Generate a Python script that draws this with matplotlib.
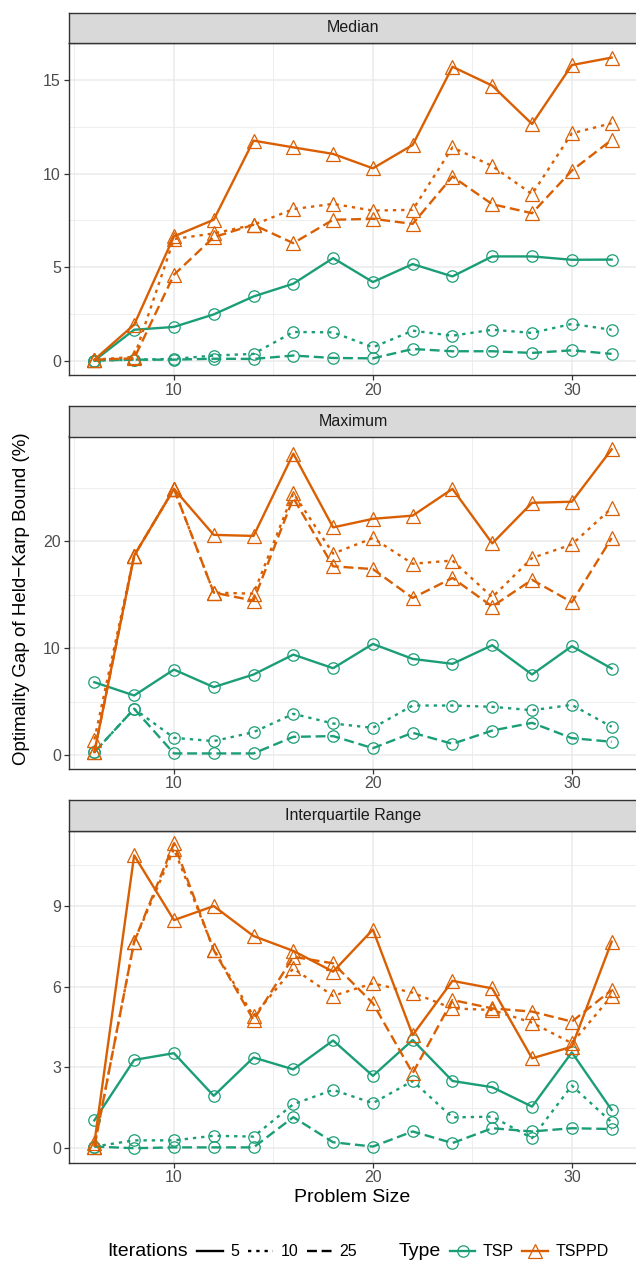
import matplotlib
matplotlib.use("Agg")
import matplotlib.pyplot as plt
from matplotlib.lines import Line2D
import numpy as np

plt.rcParams["font.family"] = ["Liberation Sans", "DejaVu Sans"]

sizes = [6, 8, 10, 12, 14, 16, 18, 20, 22, 24, 26, 28, 30, 32]
iterations = ["5", "10", "25"]
types = ["TSP", "TSPPD"]
panels = ["Median", "Maximum", "Interquartile Range"]

# values, keyed by (type, iterations)
median = {
    ("TSP", "5"): [0.0, 1.65, 1.8, 2.47, 3.43, 4.11, 5.48, 4.2, 5.16, 4.5, 5.57, 5.57, 5.39, 5.4],
    ("TSP", "10"): [0.0, 0.05, 0.09, 0.27, 0.36, 1.53, 1.51, 0.71, 1.6, 1.33, 1.65, 1.48, 1.96, 1.65],
    ("TSP", "25"): [0.0, 0.05, 0.05, 0.1, 0.09, 0.27, 0.14, 0.12, 0.62, 0.5, 0.5, 0.41, 0.55, 0.36],
    ("TSPPD", "5"): [0.05, 1.92, 6.64, 7.53, 11.76, 11.4, 11.05, 10.28, 11.53, 15.71, 14.7, 12.65, 15.8, 16.2],
    ("TSPPD", "10"): [0.05, 0.2, 6.5, 6.8, 7.26, 8.1, 8.38, 8.02, 8.06, 11.4, 10.4, 8.9, 12.15, 12.69],
    ("TSPPD", "25"): [0.05, 0.12, 4.59, 6.6, 7.26, 6.28, 7.53, 7.58, 7.31, 9.84, 8.36, 7.88, 10.16, 11.8],
}
maximum = {
    ("TSP", "5"): [6.82, 5.58, 8.0, 6.36, 7.54, 9.4, 8.13, 10.4, 9.0, 8.54, 10.28, 7.54, 10.19, 8.1],
    ("TSP", "10"): [0.28, 4.33, 1.62, 1.31, 2.15, 3.86, 2.96, 2.55, 4.64, 4.64, 4.52, 4.2, 4.7, 2.65],
    ("TSP", "25"): [0.28, 4.33, 0.16, 0.16, 0.16, 1.71, 1.78, 0.65, 2.09, 1.06, 2.3, 3.02, 1.59, 1.25],
    ("TSPPD", "5"): [0.28, 18.66, 24.9, 20.6, 20.5, 28.2, 21.3, 22.1, 22.4, 24.9, 19.8, 23.6, 23.7, 28.6],
    ("TSPPD", "10"): [1.46, 18.66, 24.9, 15.2, 15.1, 24.5, 18.85, 20.3, 17.9, 18.2, 14.77, 18.44, 19.7, 23.1],
    ("TSPPD", "25"): [0.28, 18.66, 24.9, 15.2, 14.45, 24.05, 17.66, 17.4, 14.7, 16.57, 13.9, 16.4, 14.3, 20.3],
}
iqr = {
    ("TSP", "5"): [1.04, 3.28, 3.53, 1.95, 3.37, 2.93, 4.0, 2.69, 4.02, 2.5, 2.27, 1.55, 3.56, 1.43],
    ("TSP", "10"): [0.07, 0.3, 0.3, 0.47, 0.44, 1.64, 2.17, 1.68, 2.5, 1.15, 1.18, 0.38, 2.33, 0.97],
    ("TSP", "25"): [0.07, 0.01, 0.04, 0.04, 0.04, 1.16, 0.23, 0.07, 0.63, 0.2, 0.75, 0.63, 0.75, 0.72],
    ("TSPPD", "5"): [0.2, 10.86, 8.46, 8.98, 7.87, 7.32, 6.55, 8.11, 4.2, 6.21, 5.93, 3.34, 3.77, 7.66],
    ("TSPPD", "10"): [0.07, 7.66, 11.1, 7.37, 4.9, 6.67, 5.65, 6.12, 5.77, 5.19, 5.13, 4.66, 3.9, 5.65],
    ("TSPPD", "25"): [0.07, 7.66, 11.3, 7.35, 4.76, 7.1, 6.86, 5.38, 2.79, 5.5, 5.19, 5.07, 4.7, 5.87],
}
panel_data = [median, maximum, iqr]

colors = {"TSP": "#1b9e77", "TSPPD": "#d95f02"}
markers = {"TSP": "o", "TSPPD": "^"}
dashes = {"5": "-", "10": (0, (1.4, 2.1)), "25": (0, (4.2, 2.0))}

# layout in pixels of the 636x1266 reference
W, H = 636, 1266
left, right = 68.5, 637.5
strip_tops = [12.5, 406, 800]
strip_h = 30.5
panel_h = 332
ylims = [(-0.77, 16.98), (-1.25, 29.8), (-0.52, 11.78)]
yticks = [[0, 5, 10, 15], [0, 10, 20], [0, 3, 6, 9]]
yminor = [[2.5, 7.5, 12.5], [5, 15, 25], [1.5, 4.5, 7.5, 10.5]]

border = "#333333"
grid = "#ebebeb"
lw = 1.7

fig = plt.figure(figsize=(W / 100, H / 100), dpi=100)

for i, name in enumerate(panels):
    top = strip_tops[i] + strip_h
    ax = fig.add_axes([left / W, 1 - (top + panel_h) / H, (right - left) / W, panel_h / H])
    sax = fig.add_axes([left / W, 1 - top / H, (right - left) / W, strip_h / H])

    sax.set_facecolor("#d9d9d9")
    sax.set_xticks([])
    sax.set_yticks([])
    for sp in sax.spines.values():
        sp.set_color(border)
        sp.set_linewidth(1.0)
    sax.text(0.5, 0.5, name, ha="center", va="center", fontsize=11.5, color="#1a1a1a",
             transform=sax.transAxes)

    data = panel_data[i]
    for t in types:
        for it in iterations:
            ax.plot(sizes, data[(t, it)], color=colors[t], linestyle=dashes[it], lw=lw,
                    marker=markers[t], markersize=9.5 if t == "TSPPD" else 8.2,
                    markerfacecolor="none", markeredgewidth=0.9, zorder=3)

    ax.set_xlim(4.7, 33.3)
    ax.set_ylim(*ylims[i])
    ax.set_xticks([10, 20, 30])
    ax.set_xticks([5, 15, 25], minor=True)
    ax.set_yticks(yticks[i])
    ax.set_yticks(yminor[i], minor=True)
    ax.grid(which="major", color=grid, lw=1.1, zorder=0)
    ax.grid(which="minor", color=grid, lw=0.6, zorder=0)
    ax.set_axisbelow(True)
    ax.tick_params(which="major", length=3.5, width=0.9, color=border, labelcolor="#4d4d4d",
                   labelsize=11.5, pad=2)
    ax.tick_params(which="minor", length=0)
    for sp in ax.spines.values():
        sp.set_color(border)
        sp.set_linewidth(1.0)

fig.text(22 / W, 1 - 599 / H, "Optimality Gap of Held\u2212Karp Bound (%)", rotation=90,
         ha="center", va="center", fontsize=13.5)
fig.text((left + 636) / 2 / W, 1 - 1198 / H, "Problem Size", ha="center", va="center", fontsize=14)

blank = Line2D([], [], linestyle="none")
handles = [blank]
labels = ["Iterations"]
for it in iterations:
    handles.append(Line2D([], [], color="black", linestyle=dashes[it], lw=lw))
    labels.append(it)
handles.append(blank)
labels.append("Type")
for t in types:
    handles.append(Line2D([], [], color=colors[t], lw=lw, marker=markers[t],
                          markersize=9.5 if t == "TSPPD" else 8.2,
                          markerfacecolor="none", markeredgewidth=0.9))
    labels.append(t)

leg = fig.legend(handles, labels, loc="center left", bbox_to_anchor=(75 / W, 1 - 1252 / H), ncol=7,
                 frameon=False, fontsize=11.5, handlelength=1.6, handletextpad=0.45,
                 columnspacing=0.55, borderpad=0, borderaxespad=0)
for txt in leg.get_texts():
    if txt.get_text() in ("Iterations", "Type"):
        txt.set_fontsize(14)

fig.savefig("out.png", dpi=100)
